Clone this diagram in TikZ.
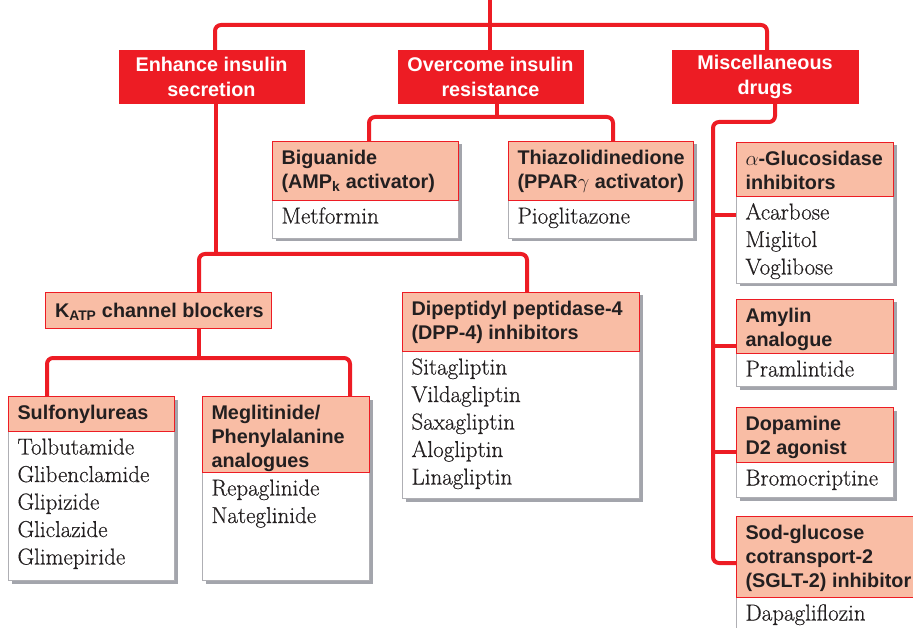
\documentclass[tikz,border=0pt]{standalone}
\usepackage{fontspec}
\newfontfamily\hdfont{Liberation Sans}
\newfontfamily\bdfont{Latin Modern Roman}[FakeBold=0.5]
\definecolor{ired}{RGB}{237,28,36}
\definecolor{salmon}{RGB}{249,189,165}
\definecolor{shadowc}{RGB}{163,165,172}
\definecolor{bordgray}{RGB}{175,175,180}
\definecolor{txt}{RGB}{35,31,32}
\newcommand{\hdstrut}{\rule{0pt}{16pt}}
\newcommand{\bdstrut}{\rule{0pt}{18pt}}
\tikzset{
  conn/.style={draw=ired, line width=4pt, rounded corners=6pt},
  topbox/.style={fill=ired, draw=ired, text=white, font=\hdfont\bfseries\fontsize{19.8}{25}\selectfont, align=center, inner sep=0pt, outer sep=0pt},
  headrect/.style={fill=salmon, draw=ired, line width=0.9pt, inner sep=0pt, outer sep=0pt},
  bodyrect/.style={fill=white, draw=bordgray, line width=0.9pt, inner sep=0pt, outer sep=0pt},
  headtext/.style={text=txt, font=\hdfont\bfseries\fontsize{19.8}{24}\selectfont, align=left, inner sep=0pt, outer sep=0pt},
  bodytext/.style={text=txt, font=\bdfont\fontsize{23}{27.5}\selectfont, align=left, inner sep=0pt, outer sep=0pt},
}
% #1 name, #2 x, #3 y, #4 width, #5 header height, #6 body height, #7 header, #8 body
\newcommand{\drugbox}[8]{%
  \fill[shadowc] ({#2+3.5},{#3+3.5}) rectangle ({#2+#4+3.5},{#3+#5+#6+3.5});
  \node[bodyrect, minimum width=#4pt, minimum height=#6pt, anchor=north west] (#1b) at (#2,{#3+#5}) {};
  \node[headrect, minimum width=#4pt, minimum height=#5pt, anchor=north west] (#1) at (#2,#3) {};
  \node[headtext, anchor=north west] (#1t) at ({#2+9.5},{#3+23.5-16}) {\hdstrut #7};
  \node[bodytext, anchor=north west] (#1l) at ({#2+9.5},{#3+#5+23.5-18}) {\bdstrut #8};
}
\begin{document}
\begin{tikzpicture}[x=1pt,y=-1pt]
\useasboundingbox (0,0) rectangle (913,628);
\clip (0,0) rectangle (913,628);
\fill[white] (0,0) rectangle (913,628);

% top level boxes
\node[topbox, minimum width=185pt, minimum height=53pt] (enh) at (211.5,76.5) {Enhance insulin\\secretion};
\node[topbox, minimum width=185pt, minimum height=53pt] (over) at (490.5,76.5) {Overcome insulin\\resistance};
\node[topbox, minimum width=186pt, minimum height=53pt] (misc) at (765,76.5) {Miscellaneous\\drugs};

% drug boxes
\drugbox{big}{272}{141}{186}{59}{38}{Biguanide\\(AMP\textsubscript{k} activator)}{Metformin}
\drugbox{tzd}{508}{141}{185}{59}{38}{Thiazolidinedione\\(PPAR$\gamma$ activator)}{Pioglitazone}
\drugbox{alpha}{736}{142}{157}{54}{87}{$\alpha$-Glucosidase\\inhibitors}{Acarbose\\Miglitol\\Voglibose}
\drugbox{amyl}{736}{299}{157}{54}{33}{Amylin\\analogue}{Pramlintide}
\drugbox{dopa}{736}{407}{157}{55}{35}{Dopamine\\D2 agonist}{Bromocriptine}
\drugbox{sglt}{736}{516}{200}{81}{80}{Sod-glucose\\cotransport-2\\(SGLT-2) inhibitor}{Dapagliflozin}
\drugbox{dpp}{402}{292}{237}{59}{147}{Dipeptidyl peptidase-4\\(DPP-4) inhibitors}{Sitagliptin\\Vildagliptin\\Saxagliptin\\Alogliptin\\Linagliptin}
\drugbox{sulf}{8}{396}{166}{35}{149}{Sulfonylureas}{Tolbutamide\\Glibenclamide\\Glipizide\\Gliclazide\\Glimepiride}
\drugbox{megl}{202}{396}{167}{76}{108}{Meglitinide/\\Phenylalanine\\analogues}{Repaglinide\\Nateglinide}

% KATP box
\node[headrect, minimum width=226pt, minimum height=36pt, anchor=north west] (katp) at (45,292) {};
\node[headtext, anchor=base west] (katpt) at (55,317.5) {K\textsubscript{ATP} channel blockers};

% junction coordinates
\coordinate (top) at (490,0);
\coordinate (tl) at (215,25);
\coordinate (tr) at (767,25);
\coordinate (ob) at (497,117);
\coordinate (obl) at (369,117);
\coordinate (obr) at (613,117);
\coordinate (ek) at (216,254);
\coordinate (kj) at (199,254);
\coordinate (ej) at (527,254);
\coordinate (km) at (199,358);
\coordinate (kl) at (47,358);
\coordinate (kr) at (350,358);
\coordinate (ms) at (775,122);
\coordinate (mc) at (713,122);
\coordinate (mb) at (713,563);
\coordinate (b1) at (713,215);
\coordinate (b2) at (713,346);
\coordinate (b3) at (713,452);

% connectors
\draw[conn] (top) -- (over.north -| top);
\draw[conn] (enh.north -| tl) -- (tl) -- (tr) -- (misc.north -| tr);
\draw[conn] (over.south -| ob) -- (ob);
\draw[conn] (big.north -| obl) -- (obl) -- (obr) -- (tzd.north -| obr);
\draw[conn] (enh.south -| ek) -- (ek);
\draw[conn] (katp.north -| kj) -- (kj) -- (ej) -- (dpp.north -| ej);
\draw[conn] (katp.south -| km) -- (km);
\draw[conn] (sulf.north -| kl) -- (kl) -- (kr) -- (megl.north -| kr);
\draw[conn] (misc.south -| ms) -- (ms) -- (mc) -- (mb) -- (sglt.west |- mb);
\draw[conn] (b1) -- (alphab.west |- b1);
\draw[conn] (b2) -- (amyl.west |- b2);
\draw[conn] (b3) -- (dopa.west |- b3);
\end{tikzpicture}
\end{document}
